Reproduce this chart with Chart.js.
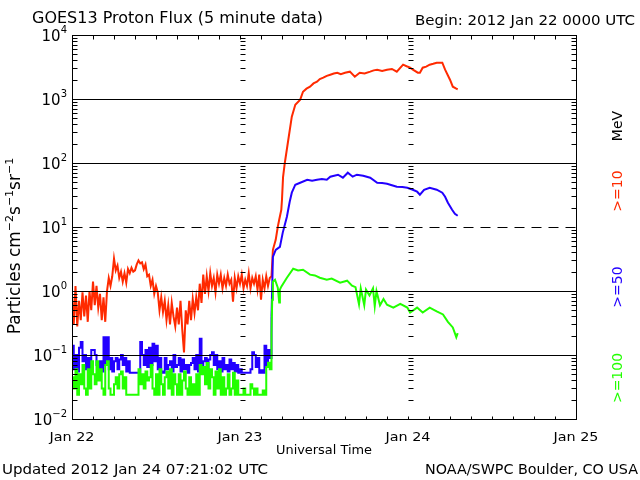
<!DOCTYPE html>
<html>
<head>
<meta charset="utf-8">
<title>GOES13 Proton Flux</title>
<script src="https://cdn.jsdelivr.net/npm/chart.js@4.4.0/dist/chart.umd.min.js"></script>
<style>
  html, body { margin: 0; padding: 0; background: #fff; }
  canvas { display: block; }
</style>
</head>
<body>
<canvas id="fluxChart" width="640" height="480"></canvas>
<script>
// Hours since 2012 Jan 22 0000 UTC; quiet-time arrays are sampled every 15 min
const PRE_STEP = 0.25;
const dayLabels = ['Jan 22', 'Jan 23', 'Jan 24', 'Jan 25'];
const decadeExponents = [4, 3, 2, 1, 0, -1, -2];

// >=10 MeV
const redPreFlux = [
  0.9, 0.3, 1.2, 0.28,   0.7, 0.35, 0.95, 0.4,   0.85, 0.33, 1.0, 0.5,
  1.4, 0.6, 1.2, 0.55,   0.9, 0.35, 0.8, 0.33,   1.0, 1.6, 1.2, 1.7,
  3.2, 2.1, 2.5, 1.6,    2.0, 1.4, 1.9, 1.35,    2.2, 1.9, 2.3, 2.0,
  2.1, 2.6, 3.0, 2.7,    2.8, 2.2, 2.6, 1.7,     1.8, 1.2, 1.5, 0.9,
  1.2, 0.95, 0.5, 0.8,   0.47, 0.7, 0.35, 0.6,   0.3, 0.65, 0.4, 0.28,
  0.55, 0.3, 0.7, 0.25,  0.11, 0.5, 0.3, 0.7,    0.35, 0.75, 0.45, 0.8,
  0.5, 1.3, 0.65, 1.8,   0.9, 1.7, 1.0, 1.9,     1.2, 1.6, 0.95, 1.8,
  1.3, 1.8, 1.1, 1.6,    1.2, 1.8, 1.3, 1.5,     0.68, 1.6, 1.1, 1.7,
  1.3, 1.8, 1.1, 1.5,    1.2, 1.9, 1.1, 1.6,     1.3, 1.7, 1.05, 1.8,
  0.73, 1.5, 1.1, 1.7,   1.2, 1.6
];
const redPostHours = [
  28.5, 28.7, 29.1, 29.4, 29.6, 29.9, 30.0, 30.15, 30.4, 30.9, 31.4, 31.9,
  32.6, 33.0, 33.5, 34.0, 34.5, 35.0, 35.4, 35.9, 36.4, 36.9, 37.4, 37.9,
  38.4, 39.0, 39.7, 40.4, 41.1, 41.8, 42.6, 43.1, 43.6, 44.3, 45.0, 45.7,
  46.4, 47.3, 47.8, 48.3, 48.7, 49.4, 49.7, 50.1, 50.6, 51.1, 51.6, 52.1,
  52.9, 53.3, 54.0, 54.4, 54.9, 55.1
];
const redPostFlux = [
  1.7, 4.4, 6.3, 10.1, 13, 18.6, 27, 60, 100, 231, 529, 815,
  975, 1300, 1450, 1556, 1750, 1862, 2050, 2153, 2300, 2398, 2500, 2576,
  2450, 2576, 2673, 2230, 2576, 2500, 2673, 2800, 2870, 2750, 2870, 2950,
  2673, 3436, 3250, 3085, 2870, 2576, 2576, 3085, 3200, 3436, 3550, 3690,
  3690, 2870, 2003, 1556, 1450, 1420
];

// >=50 MeV
const bluePreFlux = [
  0.14, 0.06, 0.1, 0.055,   0.13, 0.16, 0.08, 0.1,    0.06, 0.09, 0.055, 0.12,
  0.12, 0.1, 0.07, 0.055,   0.08, 0.055, 0.19, 0.07,  0.19, 0.06, 0.09, 0.055,
  0.08, 0.09, 0.06, 0.085,  0.1, 0.07, 0.09, 0.055,   0.08, 0.053, 0.053, 0.053,
  0.053, 0.053, 0.053, 0.16, 0.1, 0.07, 0.12, 0.065,  0.13, 0.07, 0.15, 0.08,
  0.14, 0.06, 0.09, 0.055,  0.053, 0.09, 0.06, 0.07,  0.08, 0.055, 0.1, 0.065,
  0.07, 0.09, 0.055, 0.085, 0.06, 0.07, 0.053, 0.07,  0.075, 0.09, 0.06, 0.1,
  0.055, 0.18, 0.07, 0.08,  0.09, 0.06, 0.085, 0.1,   0.11, 0.07, 0.1, 0.06,
  0.08, 0.055, 0.09, 0.06,  0.07, 0.055, 0.085, 0.06, 0.075, 0.055, 0.07, 0.053,
  0.06, 0.053, 0.053, 0.053, 0.053, 0.053, 0.06, 0.11, 0.1, 0.065, 0.09, 0.053,
  0.058, 0.053, 0.14, 0.065, 0.12, 0.09
];
const bluePostHours = [
  28.5, 28.7, 29.1, 29.7, 30.1, 30.7, 31.1, 31.4, 31.9, 32.6, 33.6, 34.3,
  35.0, 35.7, 36.4, 36.9, 38.0, 38.7, 39.4, 40.1, 40.7, 41.6, 42.6, 43.6,
  44.3, 45.0, 45.7, 46.4, 47.2, 47.9, 48.6, 49.3, 49.7, 50.3, 51.1, 52.1,
  52.9, 53.3, 53.7, 54.3, 54.7, 55.1
];
const bluePostFlux = [
  0.4, 3.4, 4.4, 4.9, 8.1, 14.5, 24.8, 34.4, 45.8, 49.2, 54.8, 53,
  54.8, 56, 54.8, 61.1, 65.6, 58.9, 70.5, 61.1, 65.6, 63.3, 58.9, 49.2,
  48.5, 47.5, 45, 42.6, 42, 41.1, 38.5, 35.6, 32.0, 38.0, 41.1, 38.3,
  34.4, 29.7, 24.0, 18.6, 16.1, 15.0
];

// >=100 MeV
const greenPreFlux = [
  0.045, 0.03, 0.06, 0.024,  0.05, 0.035, 0.07, 0.03,   0.024, 0.06, 0.03, 0.08,
  0.05, 0.035, 0.08, 0.04,   0.06, 0.03, 0.024, 0.07,   0.08, 0.03, 0.024, 0.024,
  0.035, 0.045, 0.03, 0.05,  0.055, 0.03, 0.045, 0.024, 0.024, 0.024, 0.024, 0.024,
  0.024, 0.024, 0.06, 0.035, 0.05, 0.03, 0.055, 0.04,   0.045, 0.07, 0.03, 0.024,
  0.05, 0.024, 0.06, 0.035,  0.024, 0.045, 0.055, 0.03, 0.06, 0.024, 0.05, 0.035,
  0.024, 0.05, 0.024, 0.04,  0.055, 0.03, 0.024, 0.045, 0.024, 0.035, 0.024, 0.05,
  0.024, 0.07, 0.05, 0.065,  0.035, 0.075, 0.03, 0.06,  0.045, 0.024, 0.055, 0.03,
  0.06, 0.024, 0.045, 0.024, 0.03, 0.05, 0.024, 0.03,   0.053, 0.024, 0.04, 0.024,
  0.024, 0.024, 0.03, 0.024, 0.024, 0.024, 0.035, 0.03, 0.024, 0.03, 0.024, 0.024,
  0.024, 0.028, 0.024, 0.065, 0.076, 0.06
];
const greenPostHours = [
  28.5, 28.6, 28.7, 29.0, 29.4, 29.6, 29.7, 29.9, 30.7, 31.6, 32.3, 33.0,
  34.0, 34.7, 35.4, 36.4, 37.1, 38.3, 39.3, 40.0, 40.5, 41.0, 41.25, 41.75,
  42.0, 42.5, 43.0, 43.25, 43.5, 44.0, 44.5, 45.0, 45.9, 46.9, 47.9, 48.3,
  49.3, 50.1, 51.1, 52.1, 53.0, 53.7, 54.4, 54.9, 55.1
];
const greenPostFlux = [
  0.22, 0.73, 1.4, 1.5, 1.13, 0.66, 1.05, 1.17, 1.61, 2.23, 2.1, 2.15,
  1.8, 1.75, 1.61, 1.5, 1.56, 1.35, 1.45, 1.21, 1.15, 0.62, 1.1, 0.6,
  1.05, 0.85, 1.1, 0.58, 1.0, 0.6, 0.75, 0.61, 0.55, 0.63, 0.55, 0.46,
  0.55, 0.46, 0.55, 0.48, 0.43, 0.33, 0.27, 0.19, 0.22
];

const RED = '#ff2a00', BLUE = '#2200ff', GREEN = '#22ff00';
const FONT = '"DejaVu Sans", sans-serif';

const preSeries = vals => vals.map((v, i) => ({ x: i * PRE_STEP, y: v }));
const postSeries = (hours, vals) => hours.map((h, i) => ({ x: h, y: vals[i] }));

function put(ctx, str, x, y, size, align, width, color) {
  ctx.font = size + 'px ' + FONT;
  const w = ctx.measureText(str).width;
  const sx = width ? width / w : 1;
  const left = align === 'right' ? x - w * sx : align === 'center' ? x - w * sx / 2 : x;
  ctx.save();
  ctx.fillStyle = color || '#000';
  ctx.textAlign = 'left';
  ctx.textBaseline = 'alphabetic';
  ctx.translate(left, y);
  ctx.scale(sx, 1);
  ctx.fillText(str, 0, 0);
  ctx.restore();
}

// rotated label reading bottom to top, baseline at x, centred on cy
function putUp(ctx, parts, x, cy, color) {
  ctx.save();
  ctx.translate(x, cy);
  ctx.rotate(-Math.PI / 2);
  ctx.fillStyle = color;
  ctx.textBaseline = 'alphabetic';
  ctx.textAlign = 'left';
  let total = 0;
  parts.forEach(p => { ctx.font = p.size + 'px ' + FONT; total += ctx.measureText(p.t).width; });
  let pos = -total / 2;
  parts.forEach(p => {
    ctx.font = p.size + 'px ' + FONT;
    ctx.fillText(p.t, pos, -(p.rise || 0));
    pos += ctx.measureText(p.t).width;
  });
  ctx.restore();
}

const frame = {
  id: 'frame',
  beforeDraw(chart) {
    const ctx = chart.ctx;
    ctx.save();
    ctx.fillStyle = '#fff';
    ctx.fillRect(0, 0, chart.width, chart.height);
    ctx.restore();
  },
  afterDatasetsDraw(chart) {
    const { ctx, scales: { x, y } } = chart;
    const px = v => Math.round(x.getPixelForValue(v)) + 0.5;
    const py = v => Math.round(y.getPixelForValue(v)) + 0.5;
    const seg = (x1, y1, x2, y2) => { ctx.beginPath(); ctx.moveTo(x1, y1); ctx.lineTo(x2, y2); ctx.stroke(); };
    const left = px(0), right = px(72), top = py(1e4), bottom = py(0.01);

    ctx.save();
    ctx.strokeStyle = '#000';
    ctx.lineWidth = 1;

    [-1, 0, 1, 2, 3].forEach(d => {
      ctx.setLineDash(d === 1 ? [10, 7] : []);
      seg(left, py(10 ** d), right, py(10 ** d));
    });
    ctx.setLineDash([]);
    ctx.strokeRect(left, top, right - left, bottom - top);

    for (let d = -2; d < 4; d++) {
      for (let k = 2; k <= 9; k++) {
        const yy = py(k * 10 ** d);
        [0, 24, 48].forEach(h => seg(px(h), yy, px(h) + 5, yy));
        seg(right, yy, right - 5, yy);
      }
    }
    for (let h = 3; h < 72; h += 3) {
      seg(px(h), top, px(h), top + 4);
      seg(px(h), bottom, px(h), bottom - 3);
    }
    ctx.restore();

    // y tick labels
    decadeExponents.forEach(e => {
      const yy = Math.round(y.getPixelForValue(10 ** e));
      const ex = e < 0 ? '\u2212' + (-e) : String(e);
      ctx.font = '10px ' + FONT;
      const ew = ctx.measureText(ex).width;
      put(ctx, '10', 67 - ew, yy + 6, 15, 'right');
      put(ctx, ex, 67 - ew, yy - 2, 10, 'left');
    });

    dayLabels.forEach((lab, i) => put(ctx, lab, x.getPixelForValue(i * 24), 441, 13, 'center', 45));
    put(ctx, 'Universal Time', 324, 454, 13, 'center', 96);

    put(ctx, 'GOES13 Proton Flux (5 minute data)', 32, 23, 15, 'left', 291);
    put(ctx, 'Begin: 2012 Jan 22 0000 UTC', 635, 25, 14, 'right', 220);
    put(ctx, 'Updated 2012 Jan 24 07:21:02 UTC', 2, 474, 14, 'left', 266);
    put(ctx, 'NOAA/SWPC Boulder, CO USA', 638, 474, 14, 'right', 213);

    putUp(ctx, [
      { t: 'Particles cm', size: 17 }, { t: '\u22122', size: 11, rise: 7 },
      { t: 's', size: 17 }, { t: '\u22121', size: 11, rise: 7 },
      { t: 'sr', size: 17 }, { t: '\u22121', size: 11, rise: 7 }
    ], 20, 246, '#000');
    putUp(ctx, [{ t: 'MeV', size: 14 }], 622, 126, '#000');
    putUp(ctx, [{ t: '>=10', size: 14 }], 622, 191, RED);
    putUp(ctx, [{ t: '>=50', size: 14 }], 622, 287, BLUE);
    putUp(ctx, [{ t: '>=100', size: 14 }], 622, 378, GREEN);
  }
};

const line = (data, color, stepped) => ({
  data, borderColor: color, borderWidth: 2, pointRadius: 0,
  stepped: stepped, tension: 0, fill: false
});

// quiet-time part is drawn as steps; it runs on to the first storm sample so nothing is left open
const greenPost = postSeries(greenPostHours, greenPostFlux);
const bluePost = postSeries(bluePostHours, bluePostFlux);

new Chart(document.getElementById('fluxChart'), {
  type: 'line',
  data: {
    datasets: [
      line(preSeries(greenPreFlux).concat(greenPost.slice(0, 1)), GREEN, true),
      line(greenPost, GREEN, false),
      line(preSeries(bluePreFlux).concat(bluePost.slice(0, 1)), BLUE, true),
      line(bluePost, BLUE, false),
      line(preSeries(redPreFlux).concat(postSeries(redPostHours, redPostFlux)), RED, false)
    ]
  },
  options: {
    responsive: false,
    animation: false,
    layout: { padding: { left: 72, right: 64, top: 35, bottom: 61 } },
    scales: {
      x: { type: 'linear', min: 0, max: 72, display: false },
      y: { type: 'logarithmic', min: 0.01, max: 10000, display: false }
    },
    plugins: { legend: { display: false }, tooltip: { enabled: false } }
  },
  plugins: [frame]
});
</script>
</body>
</html>
